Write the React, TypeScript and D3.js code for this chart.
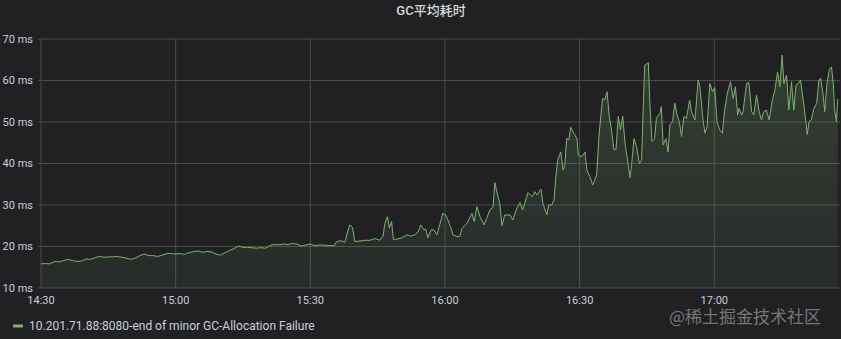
import React from "react";
import * as d3 from "d3";

// minutes after 14:30
const times: number[] = [
  0,1,2,3,4,5,6,7,8,9,10,11,12,13,14,15,16,17,18,19,20,21,22,23,24,25,26,27,28,29,
  30,31,32,33,34,35,36,37,38,39,40,41,42,43,44,45,46,47,48,49,50,51,52,53,54,55,56,57,58,
  59.9,61.0,62.1,63.3,64.4,65.3,65.9,66.8,67.7,68.3,68.8,69.4,69.9,71.0,72.2,73.3,74.4,75.5,
  76.2,76.6,77.2,77.6,78.1,78.5,79.5,80.6,81.5,82.4,83.3,84.0,84.6,85.3,85.7,86.2,86.9,87.5,
  88.2,88.9,89.5,90.2,90.6,91.2,91.8,92.7,93.3,93.8,94.9,96.0,96.5,97.1,97.8,98.7,99.3,100.0,
  100.7,101.1,101.8,102.2,102.7,103.3,104.5,105.1,106.0,106.7,107.3,108.5,109.4,110.0,110.5,
  111.4,111.8,112.7,113.1,113.8,114.3,114.7,115.1,115.8,116.3,116.7,117.1,117.6,118.0,118.7,
  119.4,119.7,120.5,121.2,121.6,122.3,122.9,123.8,124.3,125.1,125.6,126.1,126.6,127.1,127.6,
  128.1,128.6,129.1,129.6,130.1,130.6,131.2,131.6,132.1,132.7,133.3,133.8,134.1,134.5,135.3,
  135.6,136.1,136.7,137.1,137.9,138.2,138.6,139.2,139.7,140.1,140.7,141.2,141.7,142.2,142.7,
  143.2,143.8,144.5,144.9,145.7,146.4,146.8,147.4,147.9,148.4,149.0,149.6,150.1,150.6,151.2,
  151.8,152.3,152.9,153.6,154.2,154.7,155.2,155.5,156.1,156.4,157.2,157.7,158.3,158.8,159.4,
  160.0,160.5,161.0,161.6,162.2,163.0,163.5,164.1,164.6,165.1,165.5,166.1,166.6,167.2,167.7,
  168.2,168.7,169.2,169.8,170.4,170.7,171.1,171.6,172.2,172.8,173.3,173.7,174.2,174.6,175.1,
  175.6,176.1,176.5,176.8,177.2,177.5,
];

// GC average duration (ms)
const values: number[] = [
  15.8,15.9,15.8,16.4,16.3,16.6,16.9,16.6,16.4,16.5,17.0,16.9,17.3,17.6,17.4,17.5,17.5,17.6,17.4,17.2,
  16.9,17.2,17.8,18.2,17.8,17.8,17.6,17.9,18.3,18.3,18.2,18.3,18.1,18.5,18.8,18.9,18.6,18.8,18.7,18.2,
  17.9,18.5,19.0,19.5,20.1,19.8,19.8,19.7,19.6,19.7,19.6,20.2,20.5,20.4,20.6,20.5,20.7,20.6,20.1,
  20.6,20.2,20.4,20.3,20.2,20.2,21.2,21.4,21.0,23.5,25.2,24.6,21.2,21.3,21.5,21.5,21.9,21.5,
  22.5,25.5,27.2,24.5,26.0,21.7,21.8,22.2,22.8,22.5,22.8,23.5,25.2,24.0,24.2,22.1,24.0,24.0,
  22.8,25.5,28.0,27.5,26.5,24.8,22.8,22.4,22.4,24.4,25.6,28.0,26.0,29.6,27.2,25.2,26.8,28.8,
  29.5,35.4,32.0,30.4,25.0,27.6,27.6,26.4,29.2,30.6,28.8,33.0,32.0,33.2,32.4,
  33.8,30.4,27.6,30.0,30.0,31.2,36.8,40.8,42.8,38.4,39.6,46.0,45.7,48.7,47.3,
  46.0,42.0,41.6,42.8,38.4,36.8,34.8,37.2,46.5,55.7,55.3,57.3,51.3,48.1,43.4,
  43.4,51.3,48.1,51.4,44.9,41.3,36.6,40.0,46.0,44.0,40.0,40.8,51.3,63.7,64.3,
  55.3,45.3,46.0,50.9,52.1,53.7,44.5,46.0,42.8,49.3,50.1,54.5,51.7,50.1,46.5,
  51.3,50.9,55.3,52.5,50.5,60.1,58.5,51.3,47.3,48.9,59.3,57.3,58.3,50.1,48.1,
  47.3,52.9,56.9,59.7,55.7,58.5,51.7,53.3,51.7,52.5,59.3,59.5,52.5,51.7,56.5,
  52.5,50.5,52.5,52.9,50.5,55.7,57.7,62.1,58.5,66.1,59.3,61.3,52.9,59.7,52.9,
  58.9,59.3,60.1,55.3,50.1,47.0,50.1,50.5,53.3,54.5,60.1,60.5,56.9,52.5,59.3,
  62.5,63.3,59.3,52.9,50.1,55.5,
];

const yTicks: number[] = [10, 20, 30, 40, 50, 60, 70];
const xTicks: number[] = [0, 30, 60, 90, 120, 150];
const xTickLabels: string[] = ["14:30", "15:00", "15:30", "16:00", "16:30", "17:00"];
const title = "GC平均耗时";
const seriesName = "10.201.71.88:8080-end of minor GC-Allocation Failure";
const watermark = "@稀土掘金技术社区";

const W = 841;
const H = 339;
const FONT = "Roboto, 'Noto Sans CJK SC', sans-serif";

export default function App() {
  const x = d3.scaleLinear().domain([0, 178]).range([41, 840]);
  const y = d3.scaleLinear().domain([10, 70]).range([288, 39]);
  const data = times.map((t, i) => ({ t, v: values[i] }));
  const line = d3.line<{ t: number; v: number }>().x((d) => x(d.t)).y((d) => y(d.v));
  const area = d3
    .area<{ t: number; v: number }>()
    .x((d) => x(d.t))
    .y0(y(10))
    .y1((d) => y(d.v));

  return (
    <svg
      width={W}
      height={H}
      style={{ position: "absolute", left: 0, top: 0, background: "#212124" }}
    >
      <defs>
        <linearGradient id="fillGrad" x1="0" y1="0" x2="0" y2="1" gradientUnits="objectBoundingBox">
          <stop offset="0%" stopColor="#7eb26d" stopOpacity={0.2} />
          <stop offset="100%" stopColor="#7eb26d" stopOpacity={0.07} />
        </linearGradient>
      </defs>
      <rect x={0} y={0} width={W} height={H} fill="#212124" />
      <text
        x={431}
        y={10}
        textAnchor="middle"
        dominantBaseline="central"
        fill="#d8d9da"
        fontSize={13}
        fontWeight={500}
        fontFamily={FONT}
      >
        {title}
      </text>
      {/* grid */}
      {yTicks.map((t) => (
        <line key={"gy" + t} x1={x(0)} x2={840} y1={y(t)} y2={y(t)} stroke="#4b4b4e" strokeWidth={1} />
      ))}
      {xTicks.map((t) => (
        <line key={"gx" + t} x1={x(t)} x2={x(t)} y1={y(70)} y2={y(10)} stroke="#4b4b4e" strokeWidth={1} />
      ))}
      {yTicks.map((t) => (
        <line key={"ty" + t} x1={x(0) - 3} x2={x(0)} y1={y(t)} y2={y(t)} stroke="#4b4b4e" strokeWidth={1} />
      ))}
      {/* area + line */}
      <path d={area(data) ?? ""} fill="url(#fillGrad)" />
      <path d={line(data) ?? ""} fill="none" stroke="#7eb26d" strokeWidth={1} strokeLinejoin="round" />
      {/* y labels */}
      {yTicks.map((t) => (
        <text
          key={"ly" + t}
          x={33}
          y={y(t)}
          textAnchor="end"
          dominantBaseline="central"
          fill="#c7d0d9"
          fontSize={11}
          fontFamily={FONT}
        >
          {t} ms
        </text>
      ))}
      {xTicks.map((t, i) => (
        <text
          key={"lx" + t}
          x={x(t)}
          y={300.5}
          textAnchor="middle"
          dominantBaseline="central"
          fill="#c7d0d9"
          fontSize={11}
          fontFamily={FONT}
        >
          {xTickLabels[i]}
        </text>
      ))}
      {/* legend */}
      <rect x={13} y={324.5} width={10} height={3} fill="#7eb26d" />
      <text x={29} y={326} dominantBaseline="central" fill="#c7d0d9" fontSize={12} fontFamily={FONT}>
        {seriesName}
      </text>
      {/* watermark */}
      <text
        x={669}
        y={315.5}
        dominantBaseline="central"
        fill="#8e8e90"
        fillOpacity={0.8}
        fontSize={17}
        fontFamily="'Noto Sans CJK SC', sans-serif"
      >
        {watermark}
      </text>
    </svg>
  );
}
